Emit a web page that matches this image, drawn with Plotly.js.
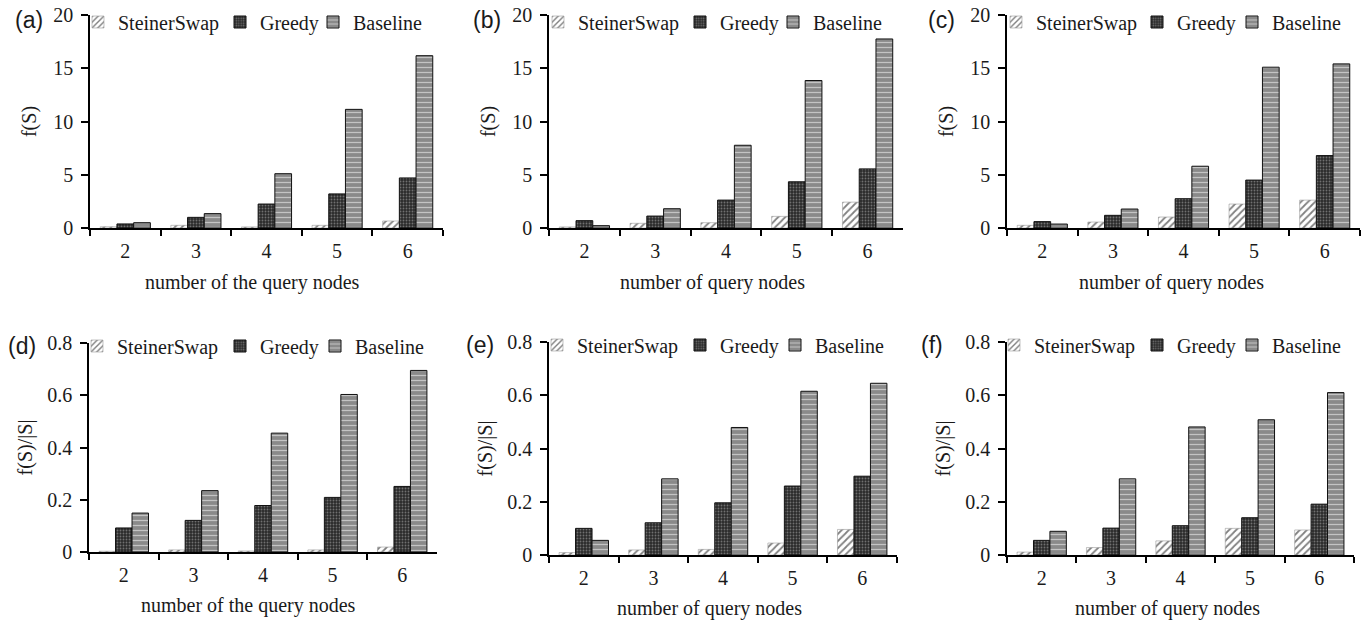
<!DOCTYPE html>
<html><head><meta charset="utf-8">
<script src="https://cdn.plot.ly/plotly-3.0.1.min.js"></script>
<style>html,body{margin:0;padding:0;background:#fff}#chart{width:1369px;height:621px}</style>
</head><body><div id="chart"></div>
<script>
// ---- data ----
const categories = ['2', '3', '4', '5', '6'];
const seriesNames = ['SteinerSwap', 'Greedy', 'Baseline'];
const panelLabels = ['(a)', '(b)', '(c)', '(d)', '(e)', '(f)'];
const xTitles = ['number of the query nodes', 'number of query nodes', 'number of query nodes',
                 'number of the query nodes', 'number of query nodes', 'number of query nodes'];
const yTitles = ['f(S)', 'f(S)', 'f(S)', 'f(S)/|S|', 'f(S)/|S|', 'f(S)/|S|'];

const a_steiner = [0.12, 0.25, 0.1, 0.25, 0.66];
const a_greedy  = [0.38, 1.0, 2.25, 3.2, 4.7];
const a_base    = [0.5, 1.35, 5.1, 11.14, 16.18];

const b_steiner = [0.1, 0.44, 0.5, 1.09, 2.43];
const b_greedy  = [0.69, 1.12, 2.62, 4.34, 5.55];
const b_base    = [0.22, 1.81, 7.77, 13.85, 17.75];

const c_steiner = [0.25, 0.56, 1.03, 2.25, 2.62];
const c_greedy  = [0.6, 1.19, 2.75, 4.5, 6.8];
const c_base    = [0.37, 1.78, 5.8, 15.1, 15.41];

const d_steiner = [0.003, 0.008, 0.004, 0.008, 0.019];
const d_greedy  = [0.092, 0.121, 0.178, 0.209, 0.251];
const d_base    = [0.149, 0.235, 0.455, 0.603, 0.695];

const e_steiner = [0.009, 0.019, 0.021, 0.045, 0.096];
const e_greedy  = [0.1, 0.121, 0.196, 0.259, 0.296];
const e_base    = [0.055, 0.286, 0.479, 0.615, 0.645];

const f_steiner = [0.011, 0.028, 0.053, 0.1, 0.094];
const f_greedy  = [0.055, 0.101, 0.11, 0.14, 0.191];
const f_base    = [0.089, 0.286, 0.481, 0.508, 0.61];

const panelData = [
  [a_steiner, a_greedy, a_base],
  [b_steiner, b_greedy, b_base],
  [c_steiner, c_greedy, c_base],
  [d_steiner, d_greedy, d_base],
  [e_steiner, e_greedy, e_base],
  [f_steiner, f_greedy, f_base]
];

// ---- layout geometry (pixels) ----
const W = 1369, H = 621;
const geo = [
  {x0: 90,   x1: 443,  top: 15,  bot: 228, range: [0, 20],  dtick: 5,   lab: [29, 20],  legY: 22,  legX: [118, 260, 353],   xt: [252, 282]},
  {x0: 549,  x1: 903,  top: 15,  bot: 228, range: [0, 20],  dtick: 5,   lab: [487, 20], legY: 22,  legX: [578, 720, 813],   xt: [712, 282]},
  {x0: 1007, x1: 1360, top: 15,  bot: 228, range: [0, 20],  dtick: 5,   lab: [941, 20], legY: 22,  legX: [1036, 1177, 1272], xt: [1171, 282]},
  {x0: 89,   x1: 437,  top: 343, bot: 552, range: [0, 0.8], dtick: 0.2, lab: [22, 346], legY: 346, legX: [117, 260, 355],   xt: [248, 605]},
  {x0: 549,  x1: 897,  top: 342, bot: 555, range: [0, 0.8], dtick: 0.2, lab: [480, 345], legY: 345, legX: [577, 720, 815],  xt: [709, 608]},
  {x0: 1007, x1: 1354, top: 342, bot: 555, range: [0, 0.8], dtick: 0.2, lab: [932, 345], legY: 345, legX: [1034, 1177, 1272], xt: [1167, 608]}
];

const serif = '"Liberation Serif", "Times New Roman", Times, serif';
const sans = '"Liberation Sans", Arial, Helvetica, sans-serif';
const FS = 20;
const TXT = '#1a1a1a';

const styles = [
  {pattern: {shape: '/', fillmode: 'replace', bgcolor: '#ffffff', fgcolor: '#808080', size: 5, solidity: 0.35},
   line: {color: '#9a9a9a', width: 0.6}},
  {pattern: {shape: '.', fillmode: 'replace', bgcolor: '#2b2b2b', fgcolor: '#707070', size: 3, solidity: 0.3},
   line: {color: '#111111', width: 1}},
  {pattern: {shape: '-', fillmode: 'replace', bgcolor: '#8a8a8a', fgcolor: '#c4c4c4', size: 5, solidity: 0.25},
   line: {color: '#111111', width: 1}}
];

const traces = [];
const layout = {
  width: W, height: H,
  margin: {l: 0, r: 0, t: 0, b: 0},
  paper_bgcolor: '#ffffff', plot_bgcolor: '#ffffff',
  barmode: 'group', bargap: 0.29, bargroupgap: 0,
  font: {family: serif, size: FS, color: TXT},
  annotations: [],
  showlegend: true
};

geo.forEach((g, i) => {
  const n = i + 1;
  const xa = 'x' + (n === 1 ? '' : n), ya = 'y' + (n === 1 ? '' : n);
  seriesNames.forEach((name, s) => {
    const k = i * 3 + s + 1;
    const legName = 'legend' + (k === 1 ? '' : k);
    traces.push({
      type: 'bar', name: name, x: categories, y: panelData[i][s],
      xaxis: xa, yaxis: ya, legend: legName,
      marker: {pattern: styles[s].pattern, line: styles[s].line},
      hoverinfo: 'x+y+name'
    });
    layout[legName] = {
      orientation: 'h', x: (g.legX[s] - 40) / W, y: 1 - g.legY / H, xanchor: 'left', yanchor: 'middle',
      bgcolor: 'rgba(0,0,0,0)', borderwidth: 0,
      font: {family: serif, size: FS, color: TXT},
      itemwidth: 30
    };
  });
  const xk = 'xaxis' + (n === 1 ? '' : n), yk = 'yaxis' + (n === 1 ? '' : n);
  layout[xk] = {
    domain: [g.x0 / W, g.x1 / W], anchor: ya, type: 'category',
    showline: true, linecolor: '#000', linewidth: 1.5,
    ticks: 'outside', tickson: 'boundaries', ticklen: 6, tickwidth: 1.5, tickcolor: '#000',
    showgrid: false, zeroline: false, ticklabelstandoff: 4,
    tickfont: {family: serif, size: FS, color: TXT},
    fixedrange: true
  };
  layout[yk] = {
    domain: [1 - g.bot / H, 1 - g.top / H], anchor: xa, range: g.range, dtick: g.dtick, tick0: 0,
    showline: true, linecolor: '#000', linewidth: 1.5,
    ticks: 'outside', ticklen: 7, tickwidth: 1.5, tickcolor: '#000',
    showgrid: false, zeroline: false, ticklabelstandoff: 4,
    tickfont: {family: serif, size: FS, color: TXT},
    title: {text: yTitles[i], font: {family: serif, size: FS, color: TXT}, standoff: i < 3 ? 11 : 9},
    fixedrange: true
  };
  // x-axis title (offset left of the axis centre, as in the original figure)
  layout.annotations.push({
    text: xTitles[i], xref: 'paper', yref: 'paper',
    x: g.xt[0] / W, y: 1 - g.xt[1] / H, xanchor: 'center', yanchor: 'middle',
    showarrow: false, font: {family: serif, size: FS, color: TXT}
  });
  layout.annotations.push({
    text: panelLabels[i], xref: 'paper', yref: 'paper',
    x: g.lab[0] / W, y: 1 - g.lab[1] / H, xanchor: 'center', yanchor: 'middle',
    showarrow: false, font: {family: sans, size: 23, color: TXT}
  });
});

Plotly.newPlot('chart', traces, layout, {displayModeBar: false});
</script>
</body></html>
